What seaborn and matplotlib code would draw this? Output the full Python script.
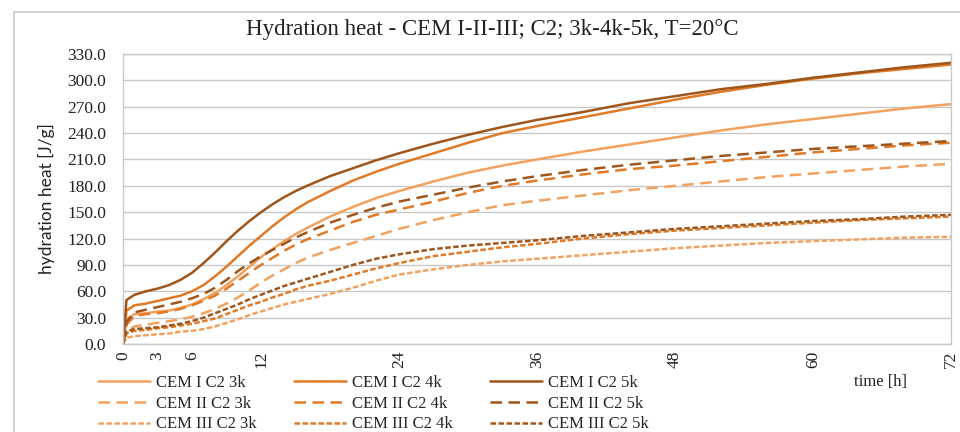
import matplotlib
matplotlib.use("Agg")
import matplotlib.pyplot as plt
import matplotlib.patches as mpatches
import numpy as np
import pandas as pd
import seaborn as sns

# Time axis [h]
time_h = [0, 0.3, 1, 2, 3, 4, 5, 6, 7, 8, 9, 10, 11, 12, 13, 14, 15, 16, 18, 20,
          22, 24, 27, 30, 33, 36, 40, 44, 48, 52, 56, 60, 64, 68, 72]

# Hydration heat [J/g]
cem1_3k = [0, 28, 34, 35, 37, 38, 41, 45, 51, 58, 67, 77, 88, 99, 108, 117, 125, 132, 145, 156,
           166, 174, 185, 195, 203, 210, 219, 227, 235, 243, 250, 256, 262, 268, 273]
cem1_4k = [0, 38, 44, 46, 49, 52, 55, 60, 67, 77, 88, 100, 112, 123, 134, 144, 153, 161, 174, 186,
           196, 205, 217, 229, 240, 248, 258, 268, 278, 287, 295, 302, 308, 313, 318]
cem1_5k = [0, 50, 56, 60, 63, 67, 73, 81, 92, 104, 117, 129, 140, 150, 159, 167, 174, 180, 191, 200,
           209, 217, 228, 238, 247, 255, 264, 274, 282, 290, 296, 303, 309, 315, 320]
cem2_3k = [0, 14, 20, 22, 24, 26, 28, 31, 35, 40, 46, 53, 61, 70, 78, 85, 92, 98, 107, 115,
           123, 131, 141, 150, 158, 163, 169, 175, 180, 185, 190, 194, 198, 202, 205]
cem2_4k = [0, 22, 32, 34, 35, 37, 40, 44, 49, 55, 63, 72, 81, 90, 98, 106, 113, 119, 129, 139,
           147, 153, 162, 172, 180, 186, 193, 199, 203, 208, 213, 218, 222, 226, 229]
cem2_5k = [0, 25, 36, 39, 42, 45, 48, 52, 57, 64, 73, 83, 92, 100, 107, 114, 121, 127, 138, 147,
           155, 162, 170, 178, 185, 191, 198, 204, 209, 214, 218, 222, 225, 228, 231]
cem3_3k = [0, 7, 9, 10, 11, 12, 14, 15, 17, 20, 24, 28, 33, 37, 41, 45, 48, 51, 57, 64,
           72, 79, 85, 90, 94, 97, 101, 105, 109, 112, 115, 117, 119, 121, 122]
cem3_4k = [0, 12, 15, 16, 18, 19, 21, 23, 26, 29, 34, 39, 44, 48, 53, 57, 62, 66, 72, 79,
           86, 92, 100, 105, 110, 114, 120, 125, 129, 132, 135, 138, 141, 143, 145]
cem3_5k = [0, 14, 17, 18, 19, 21, 23, 26, 30, 35, 40, 45, 51, 56, 61, 66, 70, 74, 82, 90,
           97, 102, 108, 112, 115, 118, 123, 127, 131, 134, 137, 140, 142, 145, 147]

series = {
    "CEM I C2 3k": cem1_3k, "CEM II C2 3k": cem2_3k, "CEM III C2 3k": cem3_3k,
    "CEM I C2 4k": cem1_4k, "CEM II C2 4k": cem2_4k, "CEM III C2 4k": cem3_4k,
    "CEM I C2 5k": cem1_5k, "CEM II C2 5k": cem2_5k, "CEM III C2 5k": cem3_5k,
}

x_ticks = [0, 3, 6, 12, 24, 36, 48, 60, 72]
y_ticks = [0, 30, 60, 90, 120, 150, 180, 210, 240, 270, 300, 330]

df = pd.concat(
    [pd.DataFrame({"time": time_h, "heat": vals, "series": name}) for name, vals in series.items()],
    ignore_index=True,
)

colors = {"3k": "#F2A25E", "4k": "#E07A27", "5k": "#9E561C"}
lw = 1.8
styles = {
    "CEM I": "-",
    "CEM II": (0, (4.6, 2.6)),
    "CEM III": (0, (2.2, 1.0)),
}

sns.set_style("white")
serif = ["Liberation Serif", "DejaVu Serif"]
plt.rcParams["font.family"] = serif

fig = plt.figure(figsize=(9.6, 4.32), dpi=100)
ax = fig.add_axes([123 / 960, 1 - 344 / 432, (951 - 123) / 960, (344 - 54) / 432])

# outer chart frame
fig.patches.append(mpatches.Rectangle((14 / 960, -0.05), 1.0, 1 - 12 / 432 + 0.05,
                                      transform=fig.transFigure, fill=False,
                                      edgecolor="#C9C9C9", linewidth=1.2, zorder=0))

handles = {}
for name in series:
    cem, _, k = name.rsplit(" ", 2)
    sub = df[df["series"] == name]
    sns.lineplot(data=sub, x="time", y="heat", ax=ax, color=colors[k],
                 linestyle=styles[cem], linewidth=lw, errorbar=None, legend=False)
    handles[name] = ax.lines[-1]

ax.set_xlim(0, 72)
ax.set_ylim(0, 330)
ax.set_yticks(y_ticks)
ax.set_yticklabels([f"{v:.1f}" for v in y_ticks], fontsize=12.5)
ax.set_xticks(x_ticks)
ax.set_xticklabels([str(v) for v in x_ticks], rotation=90, fontsize=12.5)
ax.tick_params(axis="y", length=0, pad=12, colors="#222222")
ax.tick_params(axis="x", length=0, pad=5, colors="#222222")
ax.grid(axis="y", color="#C8C8C8", linewidth=1.0)
ax.set_axisbelow(True)
for sp in ax.spines.values():
    sp.set_visible(True)
    sp.set_color("#C8C8C8")
    sp.set_linewidth(1.0)
ax.set_xlabel("")
ax.set_ylabel("hydration heat [J/g]", fontsize=12.5, family=["Lato", "DejaVu Sans"], labelpad=9,
              color="#222222")

fig.text(492 / 960, 1 - 29 / 432, "Hydration heat - CEM I-II-III; C2; 3k-4k-5k, T=20°C",
         ha="center", va="center", fontsize=16.5, color="#222222")
fig.text(881 / 960, 1 - 382 / 432, "time [h]", ha="center", va="center", fontsize=12,
         color="#222222")

# legend: one column per fineness
col_x = [98, 294, 490]
for i, k in enumerate(["3k", "4k", "5k"]):
    names = [f"CEM I C2 {k}", f"CEM II C2 {k}", f"CEM III C2 {k}"]
    fig.legend([handles[n] for n in names], names, loc="upper left",
               bbox_to_anchor=(col_x[i] / 960, 1 - 375 / 432), frameon=False,
               fontsize=12, handlelength=3.1, handletextpad=0.4, labelspacing=0.28,
               borderaxespad=0, borderpad=0)

fig.savefig("out.png", dpi=100)
